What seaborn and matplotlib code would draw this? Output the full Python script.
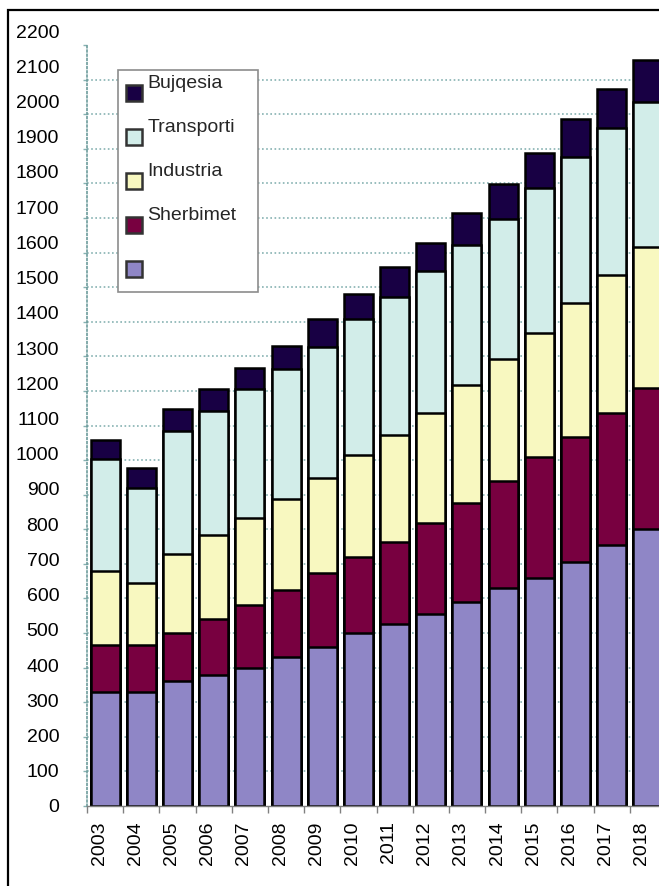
import matplotlib
matplotlib.use("Agg")
import matplotlib.pyplot as plt
import matplotlib.transforms as mtransforms
from matplotlib.lines import Line2D
from matplotlib.patches import Rectangle
import numpy as np
import pandas as pd
import seaborn as sns

sns.set_theme(style="white")
plt.rcParams['font.family'] = ['Liberation Sans', 'DejaVu Sans']

# values (stack order bottom -> top)
years = ["2003", "2004", "2005", "2006", "2007", "2008", "2009", "2010",
         "2011", "2012", "2013", "2014", "2015", "2016", "2017", "2018"]
tjeter = [330, 330, 360, 380, 400, 430, 460, 500, 525, 555, 590, 630, 660, 705, 755, 800]
sherbimet = [135, 135, 140, 160, 180, 195, 213, 220, 238, 263, 286, 309, 349, 361, 381, 408]
industria = [215, 181, 228, 243, 252, 262, 275, 294, 309, 318, 341, 353, 358, 388, 399, 408]
transporti = [323, 273, 356, 359, 373, 376, 379, 394, 399, 410, 404, 404, 419, 422, 425, 419]
bujqesia = [55, 58, 63, 63, 61, 66, 80, 72, 87, 81, 93, 102, 101, 109, 112, 121]

series = ["", "Sherbimet", "Industria", "Transporti", "Bujqesia"]
colors = ["#8f86c6", "#780040", "#f8f8c0", "#d2ede9", "#180044"]

df = pd.DataFrame({"year": years, "": tjeter, "Sherbimet": sherbimet,
                   "Industria": industria, "Transporti": transporti,
                   "Bujqesia": bujqesia})
cum = df[series].cumsum(axis=1)
cum["year"] = df["year"]

fig = plt.figure(figsize=(6.59, 8.86), dpi=100)
ax = fig.add_axes([87/659, 1-806/886, 579/659, 761/886])

# classic seaborn stacking: draw cumulative totals from the top layer down
for name, col in reversed(list(zip(series, colors))):
    sns.barplot(data=cum, x="year", y=name, color=col, width=0.8,
                edgecolor="black", linewidth=1.8, saturation=1, ax=ax, zorder=2)

ax.set_xlim(-0.5, len(years) - 0.5)
ax.set_ylim(0, 2200)
ax.set_xlabel("")
ax.set_ylabel("")

yt = np.arange(0, 2300, 100)
ax.set_yticks(yt)
ax.set_yticklabels([str(v) for v in yt])
ax.set_axisbelow(True)
for v in yt[1:-1]:
    ax.axhline(v, color="#86b2b2", linestyle=(0, (1, 1.5)), linewidth=1.2, zorder=0)

for s in ["top", "right"]:
    ax.spines[s].set_visible(False)
ax.spines["left"].set_color("#6d9c9c")
ax.spines["left"].set_linestyle((0, (1, 1.5)))
ax.spines["left"].set_linewidth(1.2)
ax.spines["bottom"].set_color("#808080")
ax.spines["bottom"].set_linewidth(1.0)

ax.tick_params(axis="y", left=True, length=3, width=1, color="#86b2b2",
               labelsize=14, pad=17, labelcolor="black")
ax.set_xticks(np.arange(-0.5, len(years), 1.0), minor=True)
ax.tick_params(axis="x", which="major", bottom=False, labelsize=14,
               labelrotation=90, pad=5, labelcolor="black")
ax.tick_params(axis="x", which="minor", bottom=True, length=5, width=1,
               color="#808080")

# the y labels in the source drift upwards a little with height
for v, lab in zip(yt, ax.get_yticklabels()):
    dy = (v / 2200) * 14 / 100
    lab.set_transform(lab.get_transform() +
                      mtransforms.ScaledTranslation(0, dy, fig.dpi_scale_trans))
for lab in ax.get_xticklabels():
    lab.set_transform(lab.get_transform() +
                      mtransforms.ScaledTranslation(-0.06, 0, fig.dpi_scale_trans))

handles = [Line2D([], [], linestyle="none", marker="s", markersize=11,
                  markerfacecolor=c, markeredgecolor="#333333", markeredgewidth=1.8)
           for c in colors[::-1]]
labels = [s + "\n" if s else " \n" for s in series[::-1]]
leg = ax.legend(handles, labels, loc="upper left",
                bbox_to_anchor=((118-87)/579, (806-70)/761 - 0.01, 140/579, 0.01),
                mode="expand", fontsize=14, frameon=True, fancybox=False,
                framealpha=1, edgecolor="#8c8c8c", borderpad=0.25,
                borderaxespad=0, handlelength=1.1, handletextpad=0.15,
                labelspacing=0.38)
leg.get_frame().set_linewidth(1.2)
leg.set_zorder(5)

# outer frame of the original (cut on the right and bottom)
fig.add_artist(Rectangle((8/659, -0.1), 1.2, 1.1 - 10/886, transform=fig.transFigure,
                         fill=False, edgecolor="black", linewidth=1.6))

fig.savefig("out.png", dpi=100)
